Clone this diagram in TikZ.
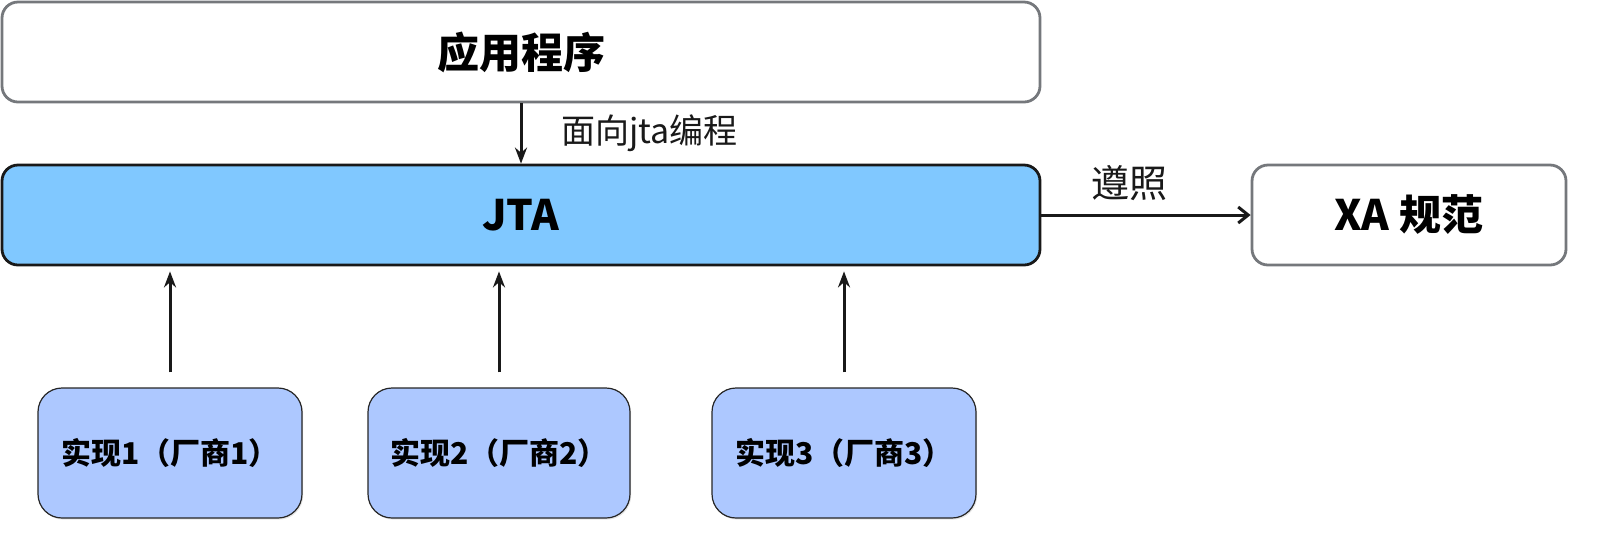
\documentclass[tikz,border=0pt]{standalone}
\usepackage{fontspec}
\setmainfont{Noto Sans CJK SC}
\usepackage{tikz}
\usetikzlibrary{arrows.meta, shadows, positioning, calc}
\definecolor{jtablue}{HTML}{80C8FF}
\definecolor{implblue}{HTML}{ADC8FF}
\definecolor{edgegray}{HTML}{75787C}

\begin{document}
\begin{tikzpicture}[x=0.5pt, y=-0.5pt,
	 					every node/.style = {align=center},
	 					bigbox/.style = {draw=edgegray, line width=1.4pt, rounded corners=8pt,
	 						fill=white, font=\fontsize{21}{24}\selectfont\bfseries},
	 					implbox/.style = {draw=black!85, line width=0.6pt, rounded corners=12pt,
	 						fill=implblue, minimum width=132pt, minimum height=65pt,
	 						font=\fontsize{15}{18}\selectfont\bfseries,
	 						drop shadow={opacity=0.2, shadow xshift=0.6pt, shadow yshift=-0.8pt}},
	 					link/.style = {line width=1.5pt, black!90}]
	\useasboundingbox (0,0) rectangle (1606,538);
	\node[bigbox, minimum width=519pt, minimum height=50pt] (app) at (521,52) {应用程序};
	\node[bigbox, draw=black!90, fill=jtablue, minimum width=519pt, minimum height=50pt] (jta) at (521,215) {JTA};
	\node[bigbox, minimum width=157pt, minimum height=50pt] (xa) at (1409,215) {XA 规范};
	\node[implbox] (impl1) at (170,453) {实现1（厂商1）};
	\node[implbox, minimum width=131pt] (impl2) at (499,453) {实现2（厂商2）};
	\node[implbox] (impl3) at (844,453) {实现3（厂商3）};
	% connectors
	\draw[link, -{Stealth[length=8pt, width=6pt]}] (app) -- node[right=16pt, font=\fontsize{17}{20}\selectfont] {面向jta编程} (jta);
	\draw[link, -{Straight Barb[length=5pt, width=8pt]}] (jta) -- node[above=3pt, pos=0.42, font=\fontsize{19}{22}\selectfont] {遵照} (xa);
	\foreach \i in {1,2,3}
		\draw[link, -{Stealth[length=8pt, width=6pt]}, shorten <=7.5pt, shorten >=2.5pt] (impl\i) -- (impl\i |- jta.south);
\end{tikzpicture}
\end{document}
